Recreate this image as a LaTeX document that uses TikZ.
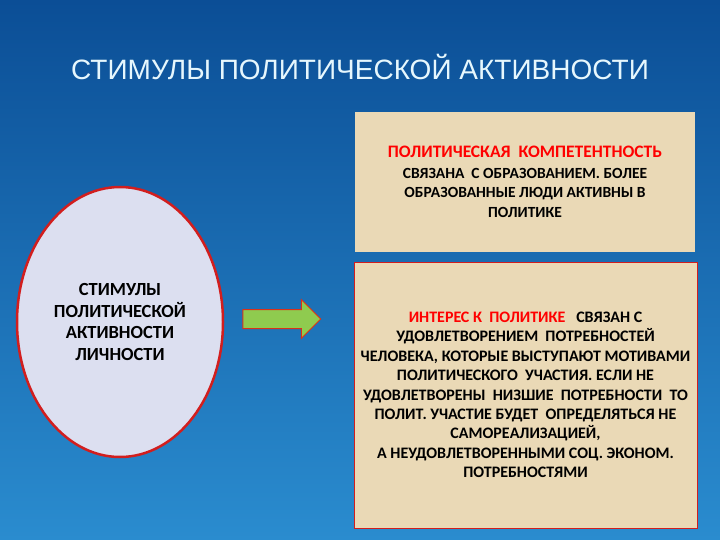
\documentclass[tikz,border=0pt]{standalone}
\usepackage{fontspec}
\setmainfont{Carlito}
\newfontfamily\titlefont{Liberation Sans}
\usetikzlibrary{shapes.geometric,shapes.arrows}
\definecolor{Sea}{HTML}{0B4E96}
\definecolor{SeaLight}{HTML}{2A8CCF}
\definecolor{Paper}{HTML}{EAD9B6}
\definecolor{Lilac}{HTML}{DCDFF0}
\definecolor{Leaf}{HTML}{8FCB4F}
\definecolor{Rim}{HTML}{D21E1E}

\begin{document}
\begin{tikzpicture}[x=1pt,y=-1pt,
card/.style={fill=Paper,align=center,inner sep=0pt,
  font=\bfseries\fontsize{15.5}{19.5}\selectfont},
hot/.style={text=red}]
\useasboundingbox (0,0) rectangle (720,540);
\shade[top color=Sea,bottom color=SeaLight] (0,0) rectangle (720,540);
\node[font=\titlefont\fontsize{28}{32}\selectfont,text=white!90!cyan] (title) at (360,67)
  {СТИМУЛЫ ПОЛИТИЧЕСКОЙ АКТИВНОСТИ};
\node[card,minimum width=340pt,minimum height=140pt] (comp) at (525,182)
  {\textcolor{red}{\fontsize{17.5}{21}\selectfont ПОЛИТИЧЕСКАЯ\ \ КОМПЕТЕНТНОСТЬ}\\[1pt]
   СВЯЗАНА\ \ С ОБРАЗОВАНИЕМ. БОЛЕЕ\\
   ОБРАЗОВАННЫЕ ЛЮДИ АКТИВНЫ В\\
   ПОЛИТИКЕ};
\node[card,draw=Rim,line width=1pt,minimum width=343pt,minimum height=266pt,
  font=\bfseries\fontsize{16}{19.4}\selectfont] (inter) at (525.5,395)
  {\textcolor{red}{ИНТЕРЕС К\ \ ПОЛИТИКЕ}\ \ \ СВЯЗАН С\\
   УДОВЛЕТВОРЕНИЕМ\ \ ПОТРЕБНОСТЕЙ\\
   ЧЕЛОВЕКА, КОТОРЫЕ ВЫСТУПАЮТ МОТИВАМИ\\
   ПОЛИТИЧЕСКОГО\ \ УЧАСТИЯ. ЕСЛИ НЕ\\
   УДОВЛЕТВОРЕНЫ\ \ НИЗШИЕ\ \ ПОТРЕБНОСТИ\ \ ТО\\
   ПОЛИТ. УЧАСТИЕ БУДЕТ\ \ ОПРЕДЕЛЯТЬСЯ НЕ\\
   САМОРЕАЛИЗАЦИЕЙ,\\
   А НЕУДОВЛЕТВОРЕННЫМИ СОЦ. ЭКОНОМ.\\
   ПОТРЕБНОСТЯМИ};
\node[ellipse,fill=Lilac,draw=Rim,line width=2.5pt,minimum width=206pt,minimum height=270pt,
  align=center,inner sep=0pt,font=\bfseries\fontsize{18.5}{21.8}\selectfont] (self) at (120,322)
  {СТИМУЛЫ\\ПОЛИТИЧЕСКОЙ\\АКТИВНОСТИ\\ЛИЧНОСТИ};
\node[single arrow,fill=Leaf,draw=Rim!80!orange,line width=1pt,minimum width=38pt,
  minimum height=78pt,single arrow head extend=10pt,inner xsep=0pt,inner ysep=9pt] (go) at (277,319) {};
\end{tikzpicture}
\end{document}
